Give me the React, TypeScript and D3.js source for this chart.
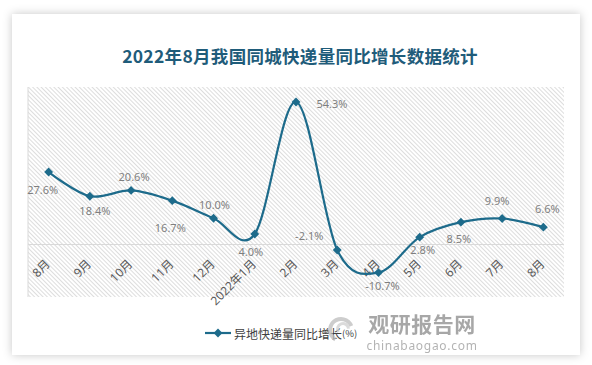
import React from 'react';
import * as d3 from 'd3';

const months = ['8月', '9月', '10月', '11月', '12月', '2022年1月', '2月', '3月', '4月', '5月', '6月', '7月', '8月'];
const growth = [27.6, 18.4, 20.6, 16.7, 10.0, 4.0, 54.3, -2.1, -10.7, 2.8, 8.5, 9.9, 6.6];
const seriesName = '异地快递量同比增长';
const title = '2022年8月我国同城快递量同比增长数据统计';

// where each data label sits relative to its point
const labelOffset: [number, number][] = [
  [-6, 17], [5, 14], [3, -14], [-2, 27], [1, -14], [-4, 17], [36, 2],
  [-28, -15], [4, 13], [3, 12], [-2, 16], [-5, -18], [4, -19],
];

const W = 592;
const H = 365;
const plot = { left: 28, right: 564, top: 87, bottom: 297 };
const lineColor = '#1d6b8b';
const font = '"Noto Sans", "Noto Sans CJK SC", sans-serif';

export default function App() {
  const x = d3.scaleBand<number>()
    .domain(d3.range(months.length))
    .range([plot.left, plot.right]);
  const y = d3.scaleLinear().domain([-20, 60]).range([plot.bottom, plot.top]);
  const cx = (i: number) => (x(i) as number) + x.bandwidth() / 2;

  const line = d3.line<number>()
    .x((d, i) => cx(i))
    .y(d => y(d))
    .curve(d3.curveCardinal.tension(0));

  const diamond = d3.symbol().type(d3.symbolDiamond2).size(50)();
  const swirl = d3.arc();

  return (
    <svg width={W} height={H} style={{ position: 'absolute', left: 0, top: 0 }} fontFamily={font}>
      <defs>
        <filter id="shadow" x="-10%" y="-10%" width="120%" height="120%">
          <feDropShadow dx="0" dy="0" stdDeviation="5" floodColor="#000" floodOpacity="0.22" />
        </filter>
        <pattern id="hatch" width="3" height="3" patternUnits="userSpaceOnUse" patternTransform="rotate(-45)">
          <line x1="0.5" y1="0" x2="0.5" y2="3" stroke="#d4d4d4" strokeWidth="0.8" />
        </pattern>
      </defs>
      <rect width={W} height={H} fill="#fff" />
      <rect x={12} y={14} width={568} height={341} fill="#fff" filter="url(#shadow)" />

      <text x={300} y={63} textAnchor="middle" fontSize={17.5} fontWeight="bold" fill="#1f5c7a"
        fontFamily='"Noto Sans CJK SC", sans-serif' letterSpacing={0.3}>{title}</text>

      <rect x={plot.left} y={plot.top} width={plot.right - plot.left} height={plot.bottom - plot.top} fill="url(#hatch)" />
      <line x1={plot.left} x2={plot.left} y1={plot.top} y2={plot.bottom} stroke="#d9d9d9" />
      <line x1={plot.left} x2={plot.right} y1={y(0)} y2={y(0)} stroke="#d9d9d9" strokeWidth={1.2} />

      {months.map((m, i) => (
        <text key={'m' + i} transform={`translate(${cx(i) - 1},${y(0) + 17}) rotate(-45)`}
          textAnchor="end" dominantBaseline="central" fontSize={12} fill="#595959">{m}</text>
      ))}

      <path d={line(growth) || ''} fill="none" stroke={lineColor} strokeWidth={2.2} />
      {growth.map((v, i) => (
        <path key={'p' + i} d={diamond || ''} transform={`translate(${cx(i)},${y(v)})`} fill={lineColor} />
      ))}
      {growth.map((v, i) => (
        <text key={'l' + i} x={cx(i) + labelOffset[i][0]} y={y(v) + labelOffset[i][1]}
          textAnchor="middle" dominantBaseline="central" fontSize={11} fill="#7f7f7f">
          {v.toFixed(1) + '%'}
        </text>
      ))}

      <g transform="translate(0,333)">
        <line x1={205} x2={231} stroke={lineColor} strokeWidth={2.2} />
        <path d={diamond || ''} transform="translate(218,0)" fill={lineColor} />
        <text x={234} dominantBaseline="central" fontSize={12} fill="#404040"
          fontFamily='"Noto Sans CJK SC", sans-serif'>
          {seriesName}<tspan fontSize={9.5}>(%)</tspan>
        </text>
      </g>

      <g opacity={0.75}>
        <path transform="translate(341,330)" fill="#bdbdbd"
          d={swirl({ innerRadius: 9, outerRadius: 13, startAngle: -2.6, endAngle: 1.2 } as any) || ''} />
        <path transform="translate(343,329)" fill="#cfcfcf"
          d={swirl({ innerRadius: 4, outerRadius: 7, startAngle: -2.2, endAngle: 1.5 } as any) || ''} />
        <text x={422} y={323} textAnchor="middle" dominantBaseline="central" fontSize={21} fontWeight="bold"
          fill="#8a8a8a" fontFamily='"Noto Sans CJK SC", sans-serif' letterSpacing={0.5}>观研报告网</text>
        <text x={422} y={345} textAnchor="middle" dominantBaseline="central" fontSize={12}
          fill="#9a9a9a" letterSpacing={0.7}>chinabaogao.com</text>
      </g>
    </svg>
  );
}
